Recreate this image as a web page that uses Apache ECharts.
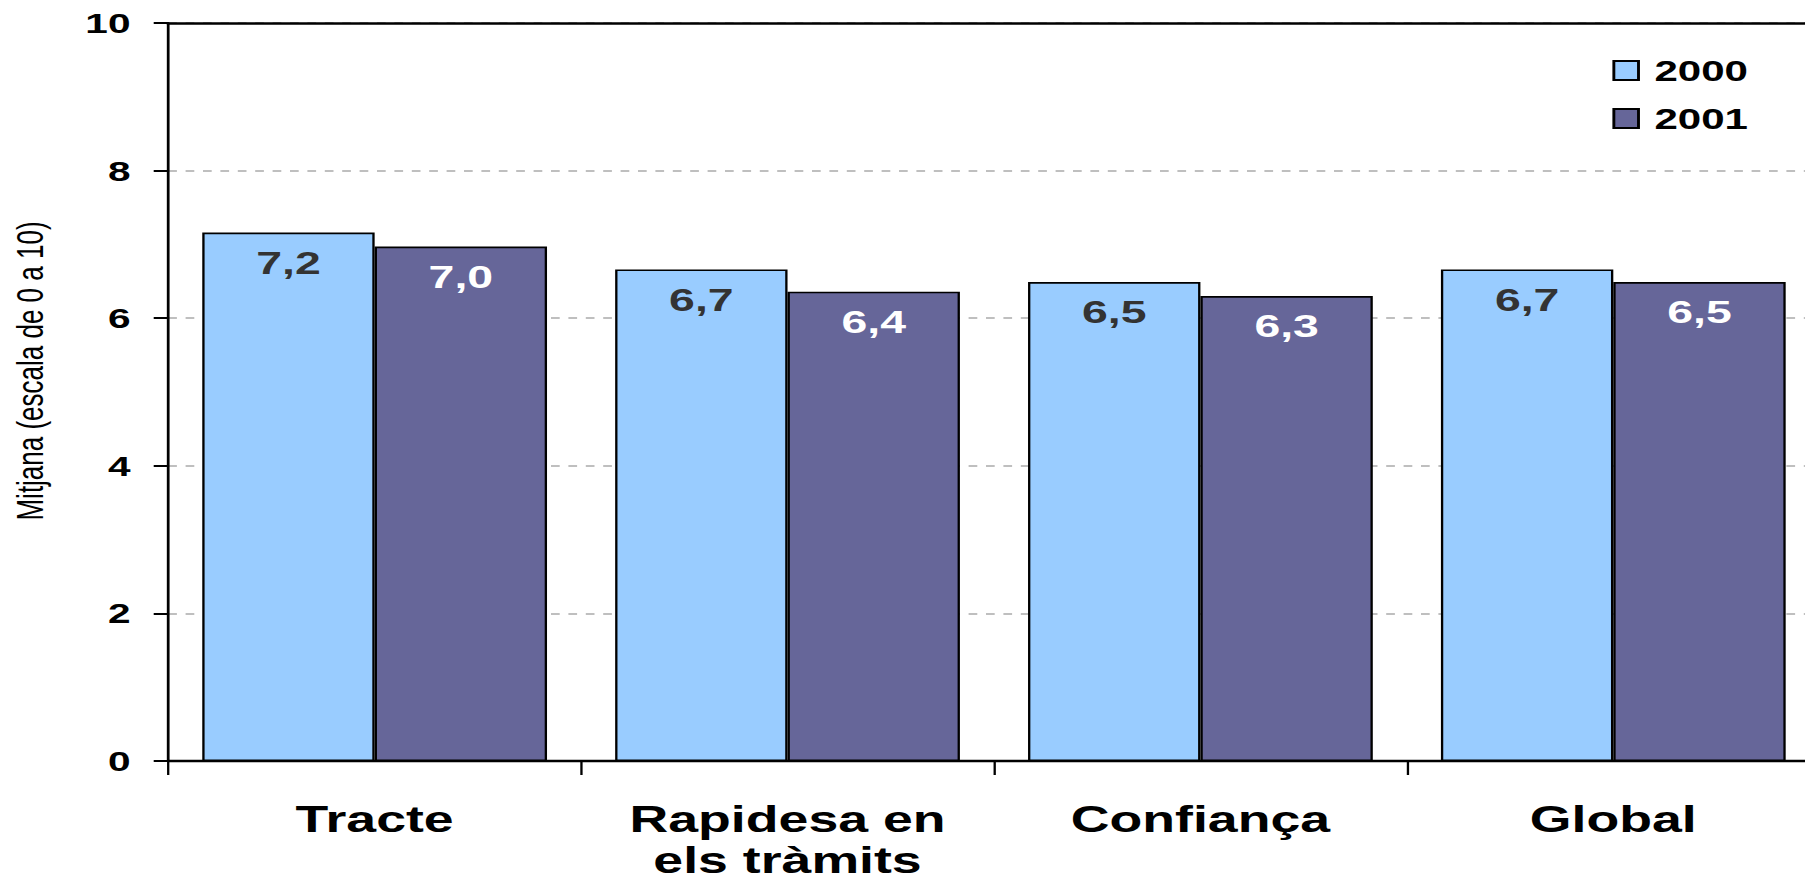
<!DOCTYPE html>
<html>
<head>
<meta charset="utf-8">
<script src="https://cdn.jsdelivr.net/npm/echarts@6/dist/echarts.min.js"></script>
<style>
html,body{margin:0;padding:0;background:#fff;overflow:hidden;width:1805px;height:880px;}
#chart{position:absolute;left:0;top:0;width:1245px;height:880px;transform:scaleX(1.45);transform-origin:0 0;}
</style>
</head>
<body>
<div id="chart"></div>
<script>
var categories = ['Tracte', 'Rapidesa en\nels tràmits', 'Confiança', 'Global'];
var seriesNames = ['2000', '2001'];
var values2000 = [7.16, 6.66, 6.49, 6.66];
var values2001 = [6.97, 6.36, 6.30, 6.49];
var yTicks = [0, 2, 4, 6, 8, 10];
var yTitle = 'Mitjana (escala de 0 a 10)';

var FONT = '"Liberation Sans", Arial, sans-serif';
function fmt(p){ return p.value.toFixed(1).replace('.', ','); }

var chart = echarts.init(document.getElementById('chart'), null, {renderer: 'svg'});
chart.setOption({
  animation: false,
  backgroundColor: '#ffffff',
  grid: {left: 116, right: -10, top: 23, bottom: 119, containLabel: false, outerBoundsMode: 'none'},
  legend: {
    orient: 'vertical',
    left: 1107,
    top: 51,
    icon: 'rect',
    itemWidth: 17,
    itemHeight: 19,
    itemGap: 19,
    textStyle: {fontFamily: FONT, fontWeight: 'bold', fontSize: 29, color: '#000', lineHeight: 29, padding: [0, 0, 0, 6]},
    data: seriesNames
  },
  xAxis: [{
    type: 'category',
    data: categories,
    position: 'bottom',
    axisLine: {lineStyle: {color: '#000', width: 2.3}},
    axisTick: {show: true, length: 14, lineStyle: {color: '#000', width: 1.6}},
    axisLabel: {interval: 0, margin: 38, fontFamily: FONT, fontWeight: 'bold', fontSize: 37, lineHeight: 41, color: '#000'},
    splitLine: {show: false}
  }, {
    type: 'category',
    data: categories,
    position: 'top',
    axisLine: {show: true, lineStyle: {color: '#000', width: 2.5}},
    axisTick: {show: false},
    axisLabel: {show: false},
    splitLine: {show: false}
  }],
  yAxis: {
    type: 'value',
    min: yTicks[0],
    max: yTicks[yTicks.length - 1],
    interval: yTicks[1] - yTicks[0],
    name: yTitle,
    nameLocation: 'middle',
    nameGap: 82,
    nameRotate: 90,
    nameTextStyle: {fontFamily: FONT, fontSize: 26, color: '#000', padding: [0, 0, 0, 42]},
    axisLine: {show: true, lineStyle: {color: '#000', width: 1.9}},
    axisTick: {show: true, length: 10, lineStyle: {color: '#000', width: 2}},
    axisLabel: {margin: 26, fontFamily: FONT, fontWeight: 'bold', fontSize: 28, color: '#000'},
    splitLine: {show: true, lineStyle: {color: '#bfbfbf', width: 2, type: [6, 6]}}
  },
  series: [{
    name: seriesNames[0],
    type: 'bar',
    xAxisIndex: 0,
    data: values2000,
    barGap: '0%',
    barCategoryGap: '16.5%',
    itemStyle: {color: '#99CCFF', borderColor: '#000', borderWidth: 1.6},
    label: {show: true, position: 'insideTop', distance: 14, formatter: fmt,
            fontFamily: FONT, fontWeight: 'bold', fontSize: 32, color: '#333333'}
  }, {
    name: seriesNames[1],
    type: 'bar',
    xAxisIndex: 0,
    data: values2001,
    barGap: '0%',
    barCategoryGap: '16.5%',
    itemStyle: {color: '#666699', borderColor: '#000', borderWidth: 1.6},
    label: {show: true, position: 'insideTop', distance: 14, formatter: fmt,
            fontFamily: FONT, fontWeight: 'bold', fontSize: 32, color: '#ffffff'}
  }]
});
</script>
</body>
</html>
